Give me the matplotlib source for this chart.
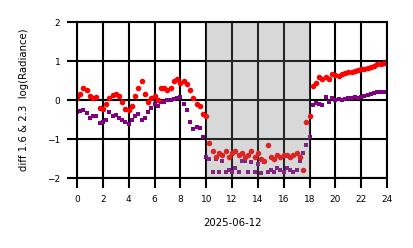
import matplotlib
matplotlib.use("Agg")
import matplotlib.pyplot as plt

hours = [0.00, 0.25, 0.50, 0.75, 1.00, 1.25, 1.50, 1.75, 2.00, 2.25, 2.50, 2.75,
         3.00, 3.25, 3.50, 3.75, 4.00, 4.25, 4.50, 4.75, 5.00, 5.25, 5.50, 5.75,
         6.00, 6.25, 6.50, 6.75, 7.00, 7.25, 7.50, 7.75, 8.00, 8.25, 8.50, 8.75,
         9.00, 9.25, 9.50, 9.75, 10.00, 10.25, 10.50, 10.75, 11.00, 11.25, 11.50, 11.75,
         12.00, 12.25, 12.50, 12.75, 13.00, 13.25, 13.50, 13.75, 14.00, 14.25, 14.50, 14.75,
         15.00, 15.25, 15.50, 15.75, 16.00, 16.25, 16.50, 16.75, 17.00, 17.25, 17.50, 17.75,
         18.00, 18.25, 18.50, 18.75, 19.00, 19.25, 19.50, 19.75, 20.00, 20.25, 20.50, 20.75,
         21.00, 21.25, 21.50, 21.75, 22.00, 22.25, 22.50, 22.75, 23.00, 23.25, 23.50, 23.75,
         24.00]

diff_red = [0.05, 0.15, 0.30, 0.25, 0.10, 0.05, 0.08, -0.20, -0.22, -0.10, 0.05, 0.12,
            0.15, 0.10, -0.05, -0.22, -0.25, -0.15, 0.10, 0.30, 0.50, 0.15, -0.05, 0.05,
            0.10, 0.00, 0.30, 0.30, 0.25, 0.30, 0.50, 0.55, 0.45, 0.50, 0.40, 0.25,
            0.05, -0.10, -0.15, -0.35, -0.40, -1.10, -1.30, -1.45, -1.35, -1.40, -1.30, -1.45,
            -1.35, -1.30, -1.40, -1.35, -1.45, -1.40, -1.30, -1.45, -1.35, -1.50, -1.55, -1.15,
            -1.45, -1.50, -1.40, -1.45, -1.40, -1.40, -1.45, -1.40, -1.35, -1.45, -1.80, -0.55,
            -0.40, 0.35, 0.45, 0.60, 0.55, 0.60, 0.55, 0.68, 0.65, 0.62, 0.68, 0.70,
            0.72, 0.72, 0.75, 0.78, 0.80, 0.80, 0.82, 0.85, 0.88, 0.92, 0.93, 0.95,
            0.95]

diff_purple = [-0.30, -0.28, -0.25, -0.32, -0.45, -0.40, -0.42, -0.60, -0.55, -0.50, -0.30, -0.40,
               -0.38, -0.45, -0.50, -0.55, -0.62, -0.50, -0.40, -0.35, -0.50, -0.45, -0.30, -0.20,
               -0.10, -0.15, -0.05, -0.05, 0.00, 0.00, 0.03, 0.05, 0.08, -0.10, -0.25, -0.55,
               -0.75, -0.70, -0.72, -0.95, -1.45, -1.50, -1.85, -1.50, -1.85, -1.55, -1.85, -1.80,
               -1.85, -1.75, -1.85, -1.55, -1.55, -1.85, -1.60, -1.85, -1.65, -1.88, -1.60, -1.85,
               -1.80, -1.85, -1.75, -1.80, -1.85, -1.75, -1.80, -1.85, -1.80, -1.55, -1.35, -1.15,
               -0.95, -0.13, -0.08, -0.10, -0.12, 0.08, -0.05, 0.05, 0.00, 0.02, 0.00, 0.03,
               0.05, 0.05, 0.08, 0.06, 0.08, 0.10, 0.13, 0.15, 0.18, 0.20, 0.20, 0.20,
               0.20]

shade_start, shade_end = 10, 18
xticks = list(range(0, 25, 2))
yticks = [-2, -1, 0, 1, 2]

fig = plt.figure(figsize=(4.14, 2.48), dpi=100)
ax = fig.add_axes([0.186, 0.282, 0.749, 0.629])

ax.plot(hours, diff_purple, 's', color='#800080', ms=3.2, mew=0, zorder=3)
ax.plot(hours, diff_red, 'o', color='#ff0000', ms=4.0, mew=0, zorder=3)
ax.axvspan(shade_start, shade_end, color='#808080', alpha=0.3, lw=0, zorder=4)

ax.set_xlim(0, 24)
ax.set_ylim(-2, 2)
ax.set_xticks(xticks)
ax.set_yticks(yticks)
ax.grid(True, color='black', lw=1.5, zorder=5)
ax.set_axisbelow(False)
for s in ax.spines.values():
    s.set_linewidth(1.5)
    s.set_zorder(6)
ax.tick_params(axis='both', length=7, width=1.5, labelsize=6.5, pad=5)
ax.set_xlabel('2025-06-12', fontsize=7.3, labelpad=10)
ax.set_ylabel('diff 1.6 & 2.3  log(Radiance)', fontsize=7.3, labelpad=13)

fig.savefig('out.png', dpi=100)
